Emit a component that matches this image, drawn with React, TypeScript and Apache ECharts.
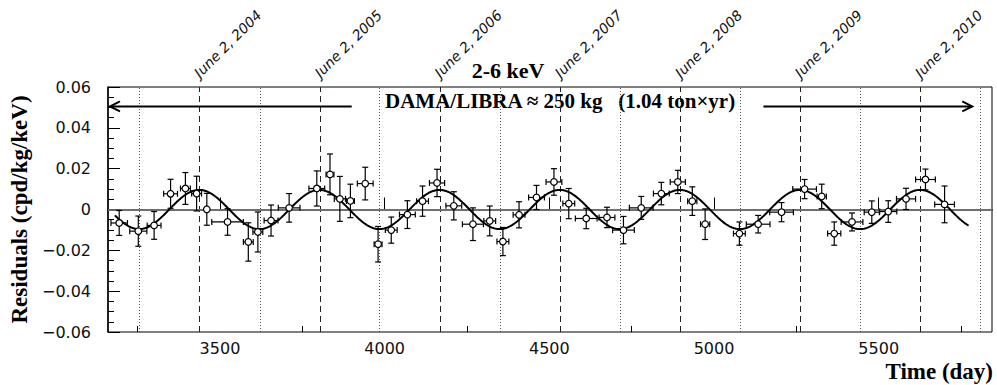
import React, { useEffect, useRef } from 'react';
import * as echarts from 'echarts';

// ---- data ----
const DAYS = [3194, 3252, 3300, 3350, 3395, 3429, 3460, 3523, 3586, 3615, 3655, 3710, 3794, 3834, 3864, 3896, 3941, 3980, 4020,
  4069, 4115, 4159, 4210, 4268, 4319, 4359, 4408, 4461, 4514, 4559, 4612, 4675, 4725, 4779, 4840, 4890,
  4934, 4973, 5077, 5134, 5205, 5275, 5327, 5365, 5419, 5479, 5529, 5583, 5642, 5700];
const RESIDUALS = [-0.0066, -0.0106, -0.0078, 0.0077, 0.0103, 0.0078, 0.0001, -0.0061, -0.0159, -0.0110, -0.0054, 0.0008, 0.0103, 0.0172, 0.0052, 0.0042, 0.0127, -0.0170, -0.0101,
  -0.0025, 0.0041, 0.0130, 0.0018, -0.0072, -0.0056, -0.0157, -0.0026, 0.0059, 0.0135, 0.0029, -0.0044, -0.0039, -0.0101, 0.0008, 0.0078, 0.0135,
  0.0041, -0.0072, -0.0118, -0.0072, -0.0013, 0.0100, 0.0064, -0.0118, -0.0061, -0.0013, -0.0010, 0.0052, 0.0147, 0.0025];
const ERR_Y = [0.0061, 0.0074, 0.0068, 0.0071, 0.0078, 0.0085, 0.0078, 0.0065, 0.0094, 0.0098, 0.0076, 0.0070, 0.0086, 0.0100, 0.0110, 0.0082, 0.0080, 0.0087, 0.0064,
  0.0068, 0.0074, 0.0067, 0.0069, 0.0080, 0.0073, 0.0069, 0.0064, 0.0059, 0.0065, 0.0074, 0.0050, 0.0050, 0.0067, 0.0056, 0.0055, 0.0057,
  0.0070, 0.0075, 0.0057, 0.0043, 0.0047, 0.0047, 0.0060, 0.0057, 0.0044, 0.0055, 0.0053, 0.0052, 0.0051, 0.0090];
const ERR_X = [25, 26, 21, 21, 15, 15, 5, 48, 15, 15, 21, 33, 24, 12, 17, 12, 24, 12, 18,
  24, 18, 23, 24, 32, 18, 18, 18, 24, 24, 18, 33, 24, 33, 36, 24, 23,
  14, 14, 18, 36, 36, 36, 14, 20, 33, 23, 26, 29, 30, 30];

const JUNE_DAYS = [3438, 3804, 4168, 4533, 4898, 5262, 5627];
const JUNE_LABELS = ['June 2, 2004', 'June 2, 2005', 'June 2, 2006', 'June 2, 2007', 'June 2, 2008', 'June 2, 2009', 'June 2, 2010'];
const DEC_DAYS = [3256, 3622, 3984, 4352, 4716, 5080, 5444, 5809];

const X_MIN = 3160;
const X_MAX = 5844;
const X_MAJOR = [3500, 4000, 4500, 5000, 5500];
const X_MINOR = [3250, 3750, 4250, 4750, 5250, 5750];

// fitted cosine model parameters
const FIT_AMPLITUDE = 0.0096;
const FIT_PERIOD = 364.8;
const FIT_PHASE = 3437;
const FIT_START = 3181;
const FIT_END = 5775;
const FIT_STEP = 3;

// annotation arrows (day from, day to, level)
const ARROW_FROM = [3900, 5150];
const ARROW_TO = [3166, 5784];
const ARROW_LEVEL = 0.0505;

const TICK_FONT = '"DejaVu Sans", sans-serif';
const SERIF = '"Liberation Serif", "Times New Roman", serif';

export default function App() {
  const ref = useRef<HTMLDivElement>(null);
  useEffect(() => {
    if (!ref.current) return;
    const chart = echarts.init(ref.current, null, { renderer: 'svg' });

    const fit: number[][] = [];
    for (let t = FIT_START; t <= FIT_END; t += FIT_STEP) {
      fit.push([t, FIT_AMPLITUDE * Math.cos((2 * Math.PI * (t - FIT_PHASE)) / FIT_PERIOD)]);
    }
    const points = DAYS.map((d, i) => [d, RESIDUALS[i], ERR_X[i], ERR_Y[i]]);
    const arrows = ARROW_FROM.map((f, i) => [f, ARROW_TO[i], ARROW_LEVEL]);
    const labels = JUNE_DAYS.map((d, i) => [d, 0.06, i]);

    const fmtY = (v: number) => {
      if (Math.abs(v) < 1e-9) return '0';
      return (v < 0 ? '\u2212' : '') + Math.abs(v).toFixed(2);
    };

    const option: any = {
      animation: false,
      grid: { left: 108, right: 5, top: 87, bottom: 53, show: true, borderColor: '#000', borderWidth: 1, backgroundColor: 'transparent' },
      xAxis: [
        {
          type: 'value', min: X_MIN, max: X_MAX, position: 'bottom',
          axisLine: { show: true, lineStyle: { color: '#000', width: 1.5 } },
          axisTick: { show: true, inside: true, length: 12, customValues: X_MAJOR, lineStyle: { color: '#000', width: 1 } },
          axisLabel: { show: true, customValues: X_MAJOR, margin: 8, color: '#111', fontFamily: TICK_FONT, fontSize: 16, formatter: (v: number) => String(Math.round(v)) },
          splitLine: { show: false },
        },
        {
          type: 'value', min: X_MIN, max: X_MAX, position: 'bottom',
          axisLine: { show: false },
          axisTick: { show: true, inside: true, length: 6, customValues: X_MINOR, lineStyle: { color: '#000', width: 1 } },
          axisLabel: { show: false },
          splitLine: { show: false },
        },
      ],
      yAxis: {
        type: 'value', min: -0.06, max: 0.06, interval: 0.02,
        name: 'Residuals (cpd/kg/keV)', nameLocation: 'middle', nameRotate: 90, nameGap: 76,
        nameTextStyle: { fontFamily: SERIF, fontWeight: 'bold', fontSize: 23, color: '#000' },
        axisLine: { show: true, lineStyle: { color: '#000', width: 1.5 } },
        axisTick: { show: true, inside: true, length: 12, lineStyle: { color: '#000' } },
        minorTick: { show: true, splitNumber: 4, length: 6, lineStyle: { color: '#000' } },
        axisLabel: { margin: 17, formatter: fmtY, color: '#111', fontFamily: TICK_FONT, fontSize: 16 },
        splitLine: { show: false },
      },
      series: [
        {
          type: 'line', data: fit, showSymbol: false, symbol: 'none', smooth: false, z: 3,
          lineStyle: { color: '#000', width: 2 },
          markLine: {
            z: 1, silent: true, symbol: 'none', label: { show: false },
            data: [
              ...JUNE_DAYS.map((d) => ({ xAxis: d, lineStyle: { color: '#222', width: 1, type: [6, 4] } })),
              ...DEC_DAYS.map((d) => ({ xAxis: d, lineStyle: { color: '#555', width: 1, type: [1, 2] } })),
              { yAxis: 0, lineStyle: { color: '#808080', width: 1.6, type: 'solid' } },
            ],
          },
        },
        {
          type: 'custom', data: points, z: 4, clip: false,
          encode: { x: 0, y: 1 },
          renderItem: (_p: any, api: any) => {
            const x = api.value(0), y = api.value(1), ex = api.value(2), ey = api.value(3);
            const c = api.coord([x, y]);
            const l = api.coord([x - ex, y]);
            const r = api.coord([x + ex, y]);
            const t = api.coord([x, y + ey]);
            const b = api.coord([x, y - ey]);
            const cap = 3;
            const st = { stroke: '#000', lineWidth: 1.2 };
            const ln = (x1: number, y1: number, x2: number, y2: number) => ({ type: 'line', shape: { x1, y1, x2, y2 }, style: st });
            return {
              type: 'group',
              children: [
                ln(c[0], t[1], c[0], b[1]),
                ln(c[0] - cap, t[1], c[0] + cap, t[1]),
                ln(c[0] - cap, b[1], c[0] + cap, b[1]),
                ln(l[0], c[1], r[0], c[1]),
                ln(l[0], c[1] - cap, l[0], c[1] + cap),
                ln(r[0], c[1] - cap, r[0], c[1] + cap),
                { type: 'circle', shape: { cx: c[0], cy: c[1], r: 3.3 }, style: { fill: '#fff', stroke: '#000', lineWidth: 1.2 } },
              ],
            };
          },
        },
        {
          type: 'custom', data: arrows, z: 4, clip: false, silent: true,
          encode: { x: 0, y: 2 },
          renderItem: (_p: any, api: any) => {
            const a = api.coord([api.value(0), api.value(2)]);
            const b = api.coord([api.value(1), api.value(2)]);
            const dir = b[0] > a[0] ? 1 : -1;
            const st = { stroke: '#000', lineWidth: 2, fill: 'none' };
            return {
              type: 'group',
              children: [
                { type: 'line', shape: { x1: a[0], y1: a[1], x2: b[0], y2: b[1] }, style: st },
                { type: 'polyline', shape: { points: [[b[0] - dir * 10, b[1] - 5], [b[0], b[1]], [b[0] - dir * 10, b[1] + 5]] }, style: st },
              ],
            };
          },
        },
        {
          type: 'custom', data: labels, z: 4, clip: false, silent: true,
          encode: { x: 0, y: 1 },
          renderItem: (_p: any, api: any) => {
            const c = api.coord([api.value(0), api.value(1)]);
            return {
              type: 'text', x: c[0] - 3, y: c[1] - 12, rotation: Math.PI / 4,
              style: { text: JUNE_LABELS[api.value(2)], font: 'italic 14px ' + TICK_FONT, fill: '#111', align: 'left', verticalAlign: 'middle' },
            };
          },
        },
      ],
      graphic: [
        { type: 'text', x: 508, y: 70, style: { text: '2-6 keV', font: 'bold 22px ' + SERIF, fill: '#000', align: 'center', verticalAlign: 'middle' } },
        { type: 'text', x: 385, y: 101, style: { text: 'DAMA/LIBRA \u2248 250 kg   (1.04 ton\u00d7yr)', font: 'bold 21px ' + SERIF, fill: '#000', align: 'left', verticalAlign: 'middle' } },
        { type: 'text', x: 993, y: 371, style: { text: 'Time (day)', font: 'bold 23px ' + SERIF, fill: '#000', align: 'right', verticalAlign: 'middle' } },
      ],
    };
    chart.setOption(option);
    return () => chart.dispose();
  }, []);
  return <div ref={ref} style={{ position: 'absolute', left: 0, top: 0, width: 997, height: 385, background: '#fff' }} />;
}
